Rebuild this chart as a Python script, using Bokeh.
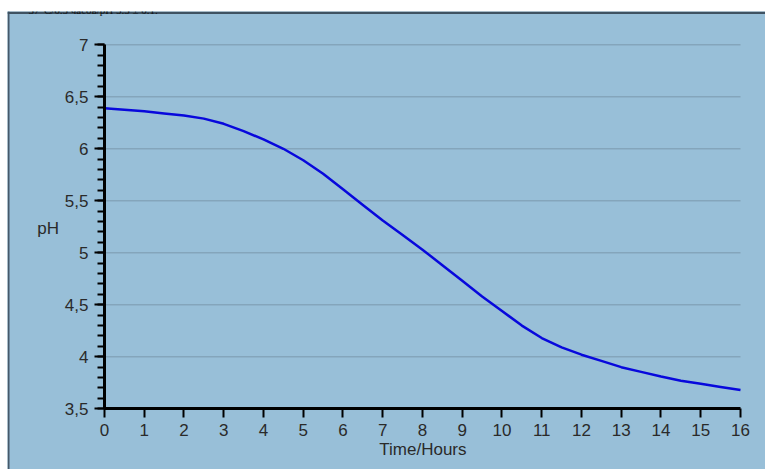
from bokeh.plotting import figure
from bokeh.models import (LinearAxis, FixedTicker, CustomJSTickFormatter, Label,
                          Range1d, Span, ColumnDataSource)
from bokeh.embed import file_html
from bokeh.resources import INLINE

# ---- data ----
hours = [0, 0.5, 1, 1.5, 2, 2.5, 3, 3.5, 4, 4.5, 5, 5.5, 6, 6.5, 7, 7.5, 8,
         8.5, 9, 9.5, 10, 10.5, 11, 11.5, 12, 12.5, 13, 13.5, 14, 14.5, 15, 15.5, 16]
ph = [6.39, 6.375, 6.36, 6.34, 6.32, 6.29, 6.24, 6.17, 6.09, 6.00, 5.89, 5.76,
      5.61, 5.46, 5.31, 5.17, 5.03, 4.88, 4.73, 4.58, 4.44, 4.30, 4.18, 4.09,
      4.02, 3.96, 3.90, 3.855, 3.81, 3.77, 3.74, 3.71, 3.68]

x_ticks = list(range(0, 17))
y_ticks = [3.5, 4, 4.5, 5, 5.5, 6, 6.5, 7]
y_minor = [round(3.5 + 0.1 * i, 1) for i in range(36)]
grid_levels = [4, 4.5, 5, 5.5, 6, 6.5, 7]

caption = "37°C/6.5 часов/pH 5.5 ± 0.1."
x_title = "Time/Hours"
y_title = "pH"

BG = "#98bfd8"
FONT = "Liberation Sans"
TXT = "#2a2a2a"

X0, X1 = -2.440, 16.629
Y0, Y1 = 2.916, 7.320
PX_X = 39.75   # pixels per hour
PX_Y = 104.0   # pixels per pH unit

p = figure(width=765, height=469, output_backend="svg", toolbar_location=None,
           x_axis_location=None, y_axis_location=None,
           x_range=Range1d(X0, X1), y_range=Range1d(Y0, Y1),
           min_border_left=7, min_border_right=0, min_border_top=11,
           min_border_bottom=0)
p.background_fill_color = BG
p.border_fill_color = "white"
p.outline_line_color = None
p.xgrid.visible = False
p.ygrid.visible = False

# horizontal grid lines
gsrc = ColumnDataSource(dict(y=grid_levels, x0=[x_ticks[0]] * len(grid_levels),
                             x1=[x_ticks[-1]] * len(grid_levels)))
p.segment(x0="x0", x1="x1", y0="y", y1="y", source=gsrc,
          line_color="#84a5bb", line_width=1.6)

# curve
p.line(hours, ph, line_color="#0808dc", line_width=2.5)

fmt = CustomJSTickFormatter(code="""
    var v = Math.round(tick * 10) / 10;
    return v.toString().replace('.', ',');
""")

yaxis = LinearAxis(fixed_location=0, bounds=(y_ticks[0], y_ticks[-1]),
                   ticker=FixedTicker(ticks=y_ticks, minor_ticks=y_minor),
                   formatter=fmt)
yaxis.axis_line_width = 3
yaxis.axis_line_color = "black"
yaxis.major_tick_line_width = 2
yaxis.minor_tick_line_width = 2
yaxis.major_tick_out = 10
yaxis.major_tick_in = 0
yaxis.minor_tick_out = 7
yaxis.minor_tick_in = 0
yaxis.major_label_text_font = FONT
yaxis.major_label_text_font_size = "17px"
yaxis.major_label_text_color = TXT
yaxis.major_label_standoff = 6
p.add_layout(yaxis, "left")

xaxis = LinearAxis(fixed_location=3.5, bounds=(x_ticks[0], x_ticks[-1]),
                   ticker=FixedTicker(ticks=x_ticks), formatter=fmt)
xaxis.axis_line_width = 3
xaxis.axis_line_color = "black"
xaxis.major_tick_line_width = 2
xaxis.major_tick_out = 9
xaxis.major_tick_in = 0
xaxis.minor_tick_line_color = None
xaxis.major_label_text_font = FONT
xaxis.major_label_text_font_size = "17px"
xaxis.major_label_text_color = TXT
xaxis.major_label_standoff = 6
p.add_layout(xaxis, "below")

p.add_layout(Label(x=8.01, y=3.109, text=x_title, text_font=FONT,
                   text_font_size="17px", text_color=TXT,
                   text_align="center", text_baseline="middle"))
p.add_layout(Label(x=-1.69, y=5.234, text=y_title, text_font=FONT,
                   text_font_size="17px", text_color=TXT,
                   text_align="left", text_baseline="middle"))

# frame borders (left and top)
p.add_layout(Span(location=X0 + 1.0 / PX_X, dimension="height",
                  line_color="#46596a", line_width=2))
p.add_layout(Span(location=Y1 - 1.2 / PX_Y, dimension="width",
                  line_color="#3f5262", line_width=2.5))

# caption above the chart (in the white strip)
p.add_layout(Label(x=X0 + 21.0 / PX_X, y=Y1 + 2.0 / PX_Y, text=caption,
                   text_font="Liberation Serif", text_font_size="11px",
                   text_color="#111111", text_align="left",
                   text_baseline="alphabetic"))

open("out.html", "w").write(file_html(p, INLINE))
